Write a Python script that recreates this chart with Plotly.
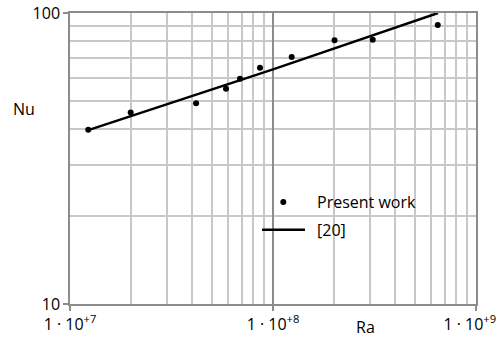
import plotly.graph_objects as go

# Present work: Rayleigh number vs Nusselt number
ra_present = [1.23e7, 1.99e7, 4.18e7, 5.87e7, 6.88e7, 8.63e7, 1.236e8, 2.01e8, 3.10e8, 6.48e8]
nu_present = [39.7, 45.5, 49.0, 54.9, 59.4, 64.8, 70.6, 80.6, 81.0, 90.9]

# Reference correlation [20]
ra_ref = [1.22e7, 1.0e8, 6.5e8]
nu_ref = [39.5, 64.0, 100.0]

x_tickvals = [1e7, 1e8, 1e9]
# the last label carries trailing no-break spaces so it stays inside the page
x_ticktext = ["1 · 10<sup>+7</sup>", "1 · 10<sup>+8</sup>", "1 · 10<sup>+9</sup>&nbsp;&nbsp;&nbsp;"]
y_tickvals = [10, 100]
y_ticktext = ["10", "100"]

FONT = "Open Sans"
FS = 16
MAJOR = "#8c8c8c"
MINOR = "#c8c8c8"

# plot area in pixels
L, R, T, B = 70, 476, 13, 304.5
W, H = 497, 349


def px(x):
    return (x - L) / (R - L)


def py(y):
    return (B - y) / (B - T)


fig = go.Figure()
fig.add_trace(go.Scatter(
    x=ra_ref, y=nu_ref, mode="lines", name="[20]",
    line=dict(color="black", width=2.5), showlegend=False,
))
fig.add_trace(go.Scatter(
    x=ra_present, y=nu_present, mode="markers", name="Present work",
    marker=dict(color="black", size=6), showlegend=False,
))

axis_common = dict(
    type="log",
    automargin=False,
    showline=True, mirror=True, linecolor=MAJOR, linewidth=1.5,
    showgrid=True, gridcolor=MAJOR, gridwidth=1.5,
    ticks="outside", ticklen=5, tickcolor=MAJOR, tickwidth=1.5,
    tickfont=dict(family=FONT, size=FS, color="black"),
    ticklabeloverflow="allow",
    zeroline=False,
    minor=dict(dtick="D1", showgrid=True, gridcolor=MINOR, gridwidth=1.5, ticks=""),
)

fig.update_layout(
    width=W, height=H,
    margin=dict(l=L, r=W - R, t=T, b=H - B, autoexpand=False),
    paper_bgcolor="white", plot_bgcolor="white",
    xaxis=dict(range=[7, 9], tickmode="array", tickvals=x_tickvals,
               ticktext=x_ticktext, **axis_common),
    yaxis=dict(range=[1, 2], tickmode="array", tickvals=y_tickvals,
               ticktext=y_ticktext, **axis_common),
    showlegend=False,
)


def label(text, x, y, xanchor="center"):
    fig.add_annotation(text=text, x=px(x), y=py(y), xref="paper", yref="paper",
                       xanchor=xanchor, yanchor="middle", showarrow=False,
                       font=dict(family=FONT, size=FS, color="black"))


# axis titles
label("Ra", 365, 328)
label("Nu", 24, 109)

# legend
fig.add_shape(type="circle", xref="paper", yref="paper",
              x0=px(280.3), x1=px(286.3), y0=py(205.3), y1=py(199.3),
              fillcolor="black", line=dict(width=0))
fig.add_shape(type="line", xref="paper", yref="paper",
              x0=px(262), x1=px(305), y0=py(230), y1=py(230),
              line=dict(color="black", width=2.5))
label("Present work", 315, 202, xanchor="left")
label("[20]", 315, 230, xanchor="left")

fig.write_html("out.html")
